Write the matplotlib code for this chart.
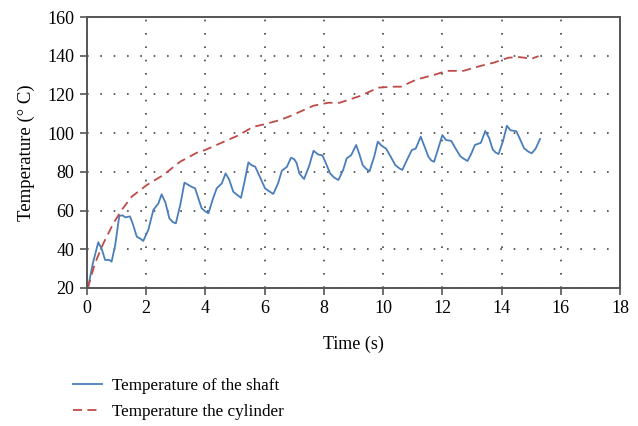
import matplotlib.pyplot as plt

plt.rcParams['font.family'] = ['Liberation Serif', 'DejaVu Serif']

# shaft temperature readings (s, degC)
shaft_t = [0.0, 0.04, 0.2, 0.38, 0.5, 0.61, 0.75, 0.83, 0.95, 1.09, 1.2, 1.3, 1.45,
           1.55, 1.68, 1.8, 1.9, 2.07, 2.24, 2.41, 2.52, 2.65, 2.78, 2.9, 3.0,
           3.15, 3.29, 3.4, 3.5, 3.65, 3.87, 4.0, 4.1, 4.25, 4.38, 4.55, 4.68,
           4.8, 4.94, 5.08, 5.2, 5.32, 5.45, 5.55, 5.68, 5.85, 6.01, 6.15, 6.29,
           6.45, 6.58, 6.75, 6.89, 7.0, 7.08, 7.17, 7.33, 7.5, 7.65, 7.8, 7.95,
           8.08, 8.21, 8.35, 8.49, 8.65, 8.77, 8.92, 9.09, 9.2, 9.31, 9.43, 9.54,
           9.7, 9.82, 9.95, 10.1, 10.25, 10.41, 10.55, 10.65, 10.8, 10.97, 11.1,
           11.27, 11.4, 11.53, 11.62, 11.72, 11.86, 12.0, 12.12, 12.3, 12.45,
           12.6, 12.72, 12.85, 12.98, 13.1, 13.3, 13.45, 13.58, 13.7, 13.8,
           13.9, 14.05, 14.18, 14.3, 14.5, 14.62, 14.76, 14.9, 15.02, 15.15, 15.3]
shaft_temp = [20.0, 20.7, 33.0, 43.6, 40.0, 34.5, 34.5, 33.6, 42.0, 57.3, 57.5, 56.5, 57.0,
              53.0, 46.5, 45.5, 44.3, 50.0, 60.3, 63.7, 68.4, 64.0, 56.0, 54.0, 53.4,
              63.0, 74.4, 73.5, 72.5, 71.5, 61.2, 59.5, 58.6, 66.0, 71.5, 74.0, 79.2,
              76.0, 69.7, 68.0, 66.6, 75.0, 84.9, 83.5, 82.7, 77.0, 71.5, 70.0, 68.6,
              74.0, 80.6, 82.6, 87.3, 86.5, 84.5, 79.2, 76.3, 83.0, 90.9, 89.0, 88.5,
              84.0, 79.2, 77.0, 75.8, 81.0, 87.0, 88.6, 93.9, 89.0, 83.5, 81.5, 80.3,
              88.0, 95.6, 93.5, 92.0, 88.0, 83.5, 81.8, 81.0, 86.0, 91.3, 92.0,
              98.2, 93.0, 87.8, 86.0, 85.2, 92.0, 99.0, 96.5, 96.0, 92.0,
              88.2, 86.8, 85.6, 89.5, 93.9, 95.0, 101.1, 97.5, 91.6, 90.0,
              89.2, 96.0, 103.8, 101.5, 101.0, 97.0, 92.2, 90.5, 89.6, 92.0, 97.0]

# cylinder temperature readings (s, degC)
cyl_t = [0.0, 0.04, 0.27, 0.55, 0.89, 1.17, 1.51, 2.02, 2.58, 3.14, 3.71, 3.99,
         4.49, 5.06, 5.62, 5.97, 6.52, 6.86, 7.65, 8.15, 8.53, 9.22, 9.84, 10.3,
         10.6, 11.14, 11.7, 12.15, 12.71, 13.28, 13.73, 14.23, 14.6, 15.02, 15.25]
cyl_temp = [20.0, 20.7, 32.8, 43.0, 53.4, 60.3, 67.2, 73.2, 78.4, 85.2, 89.9, 91.3,
            94.7, 98.5, 103.3, 104.5, 106.8, 108.8, 114.2, 115.7, 115.7, 119.2, 123.5, 124.0,
            124.0, 127.8, 130.0, 132.2, 132.2, 134.7, 136.4, 139.0, 139.3, 138.5, 139.8]

fig = plt.figure(figsize=(6.38, 4.26), dpi=100)
ax = fig.add_axes([0.1364, 0.324, 0.8354, 0.636])

l1, = ax.plot(shaft_t, shaft_temp, color='#4a7ebb', lw=1.3,
              label='Temperature of the shaft')
l2, = ax.plot(cyl_t, cyl_temp, color='#be4b48', lw=1.3, linestyle=(0, (5, 3)),
              label='Temperature the cylinder')

ax.set_xlim(0, 18)
ax.set_ylim(20, 160)
ax.set_xticks(range(0, 19, 2))
ax.set_yticks(range(20, 161, 20))
ax.grid(True, color='#444444', linestyle=(0, (1, 7)), linewidth=1.2)
ax.tick_params(direction='out', length=5, width=1.2, color='#555555',
               labelsize=13, pad=4)
for sp in ax.spines.values():
    sp.set_color('#555555')
    sp.set_linewidth(1.4)

ax.set_xlabel('Time (s)', fontsize=13, labelpad=13)
ax.set_ylabel('Temperature (° C)', fontsize=13.5, labelpad=9)

fig.legend(handles=[l1, l2], loc='upper left', bbox_to_anchor=(0.103, 0.128),
           frameon=False, fontsize=12.3, handlelength=1.7, handletextpad=0.6,
           labelspacing=0.55, borderaxespad=0)

fig.savefig('out.png', dpi=100)
